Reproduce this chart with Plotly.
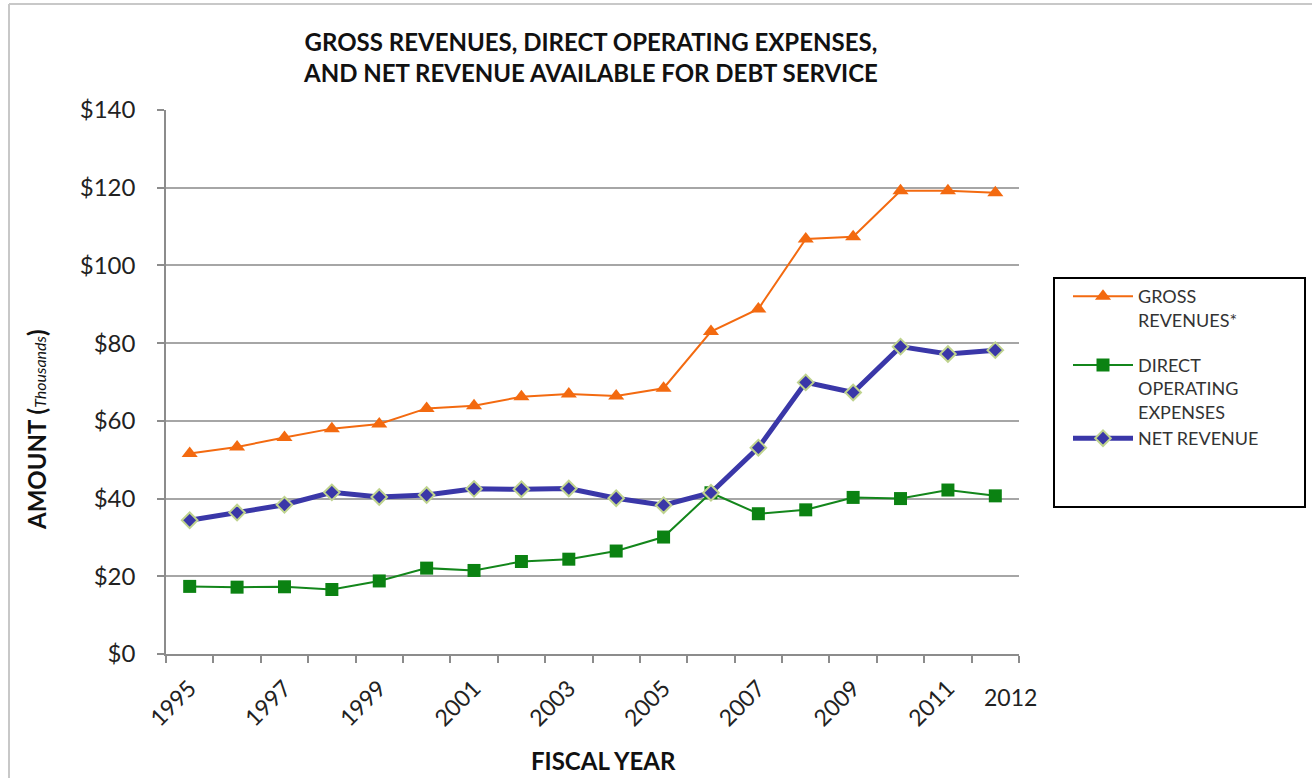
import plotly.graph_objects as go

years = list(range(1995, 2013))
gross_revenues = [51.6, 53.3, 55.7, 58.0, 59.2, 63.2, 63.9, 66.2, 66.9, 66.4, 68.4, 83.0, 88.8, 106.8, 107.4, 119.2, 119.2, 118.7]
direct_expenses = [17.4, 17.2, 17.3, 16.6, 18.8, 22.1, 21.5, 23.8, 24.4, 26.5, 30.1, 41.5, 36.1, 37.1, 40.3, 40.0, 42.2, 40.7]
net_revenue = [34.4, 36.4, 38.4, 41.6, 40.4, 40.9, 42.5, 42.4, 42.6, 40.1, 38.3, 41.5, 53.1, 69.9, 67.3, 79.1, 77.2, 78.2]

tick_years = [1995, 1997, 1999, 2001, 2003, 2005, 2007, 2009, 2011]
y_ticks = [0, 20, 40, 60, 80, 100, 120, 140]

FONT = "Lato"
L, R, T, B = 166, 1019, 110, 654
W, H = 1314, 780

def px_x(p):
    return (p - L) / (R - L)

def px_y(p):
    return (B - p) / (B - T)

fig = go.Figure()
fig.add_trace(go.Scatter(
    x=years, y=gross_revenues, name="GROSS<br>REVENUES*", mode="lines+markers",
    legendgroup="g1",
    line=dict(color="#F36A10", width=2),
    marker=dict(symbol="triangle-up", size=14, color="#F36A10"),
))
fig.add_trace(go.Scatter(
    x=years, y=direct_expenses, name="DIRECT<br>OPERATING<br>EXPENSES", mode="lines+markers",
    legendgroup="g2",
    line=dict(color="#13861B", width=2),
    marker=dict(symbol="square", size=13, color="#0B8212"),
))
fig.add_trace(go.Scatter(
    x=years, y=net_revenue, name="NET REVENUE", mode="lines+markers",
    legendgroup="g2",
    line=dict(color="#3A37A8", width=5),
    marker=dict(symbol="diamond", size=12, color="#3A37A8",
                line=dict(color="#BFD38E", width=2)),
))

fig.update_layout(
    width=W, height=H,
    margin=dict(l=L, r=W - R, t=T, b=H - B),
    paper_bgcolor="white", plot_bgcolor="white",
    font=dict(family=FONT, color="#222222"),
    showlegend=True,
    legend=dict(
        x=px_x(1068), y=px_y(278), xanchor="left", yanchor="top",
        font=dict(family=FONT, size=18, color="#333333"),
        valign="top", tracegroupgap=19, itemwidth=60,
        bgcolor="rgba(0,0,0,0)",
    ),
    xaxis=dict(
        range=[1994.5, 2012.5],
        tickmode="array", tickvals=tick_years, ticktext=[str(y) for y in tick_years],
        tickangle=-45, ticks="", ticklen=0,
        tickfont=dict(family=FONT, size=23, color="#222222"),
        showgrid=False, zeroline=False,
        showline=True, linecolor="#8C8C8C", linewidth=1.5,
        ticklabelstandoff=10,
        minor=dict(tickmode="array", tickvals=[y - 0.5 for y in years] + [2012.5],
                   ticks="outside", ticklen=7, tickcolor="#8C8C8C", tickwidth=1.5,
                   showgrid=False),
    ),
    yaxis=dict(
        range=[0, 140], tickmode="array", tickvals=y_ticks,
        ticktext=["$" + str(v) for v in y_ticks],
        ticks="outside", ticklen=7, tickcolor="#8C8C8C", tickwidth=1.5,
        tickfont=dict(family=FONT, size=24, color="#222222"),
        showgrid=True, gridcolor="#A6A6A6", gridwidth=1.5,
        zeroline=False, showline=True, linecolor="#8C8C8C", linewidth=1.5,
        ticklabelstandoff=17,
    ),
)

# title
fig.add_annotation(
    text="<b>GROSS REVENUES, DIRECT OPERATING EXPENSES,<br>AND NET REVENUE AVAILABLE FOR DEBT SERVICE</b>",
    xref="paper", yref="paper", x=px_x(590), y=px_y(57), xanchor="center", yanchor="middle",
    showarrow=False, font=dict(family=FONT, size=24, color="#111111"),
)
# y axis title
fig.add_annotation(
    text="<b>AMOUNT (</b><i><span style='font-size:16px'>Thousands</span></i><b>)</b>",
    xref="paper", yref="paper", x=px_x(36), y=px_y(430), xanchor="center", yanchor="middle",
    textangle=-90, showarrow=False, font=dict(family=FONT, size=24, color="#111111"),
)
# x axis title
fig.add_annotation(
    text="<b>FISCAL YEAR</b>",
    xref="paper", yref="paper", x=px_x(603), y=px_y(760), xanchor="center", yanchor="middle",
    showarrow=False, font=dict(family=FONT, size=24, color="#111111"),
)
# horizontal 2012 label
fig.add_annotation(
    text="2012", xref="x", yref="paper", x=years[-1], y=px_y(697),
    xanchor="center", yanchor="middle", xshift=15, showarrow=False,
    font=dict(family=FONT, size=23, color="#222222"),
)

# legend box
fig.add_shape(type="rect", xref="paper", yref="paper",
              x0=px_x(1054), x1=px_x(1305), y0=px_y(507), y1=px_y(278),
              line=dict(color="#000000", width=2), fillcolor="rgba(0,0,0,0)")
# outer chart border
fig.add_shape(type="line", xref="paper", yref="paper",
              x0=px_x(9), x1=px_x(9), y0=px_y(778), y1=px_y(4),
              line=dict(color="#C8C8C8", width=2))
fig.add_shape(type="line", xref="paper", yref="paper",
              x0=px_x(9), x1=px_x(1312), y0=px_y(4), y1=px_y(4),
              line=dict(color="#C8C8C8", width=2))

fig.write_html("out.html")
